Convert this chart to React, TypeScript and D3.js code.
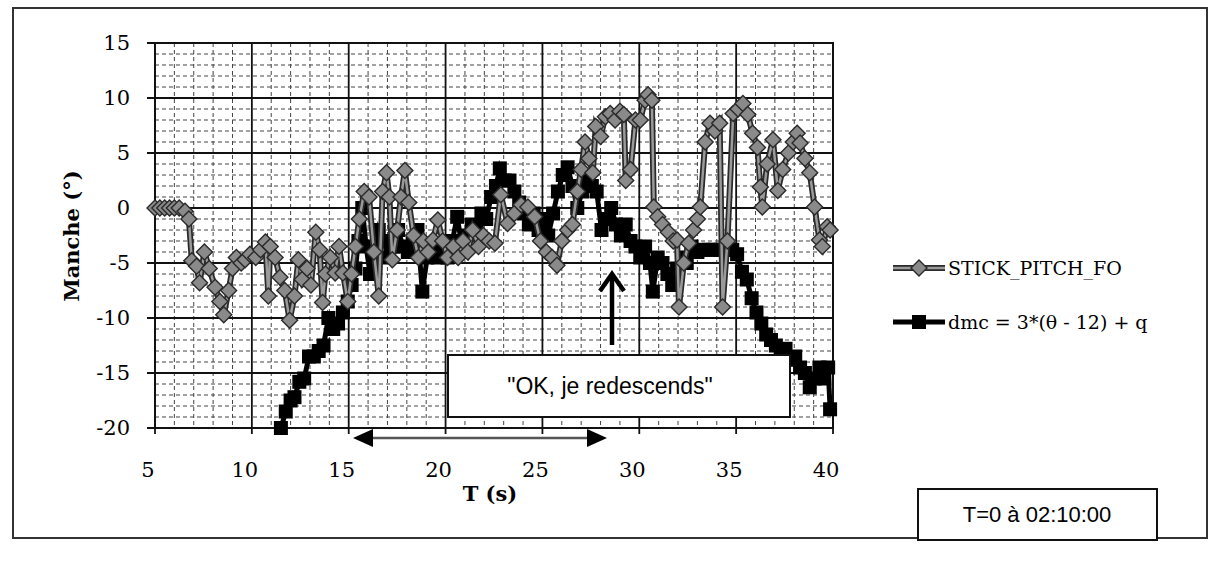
import React from "react";
import * as d3 from "d3";

// ---- Data ----
const stickT = [5.0,5.25,5.5,5.75,6.0,6.25,6.55,6.75,6.9,7.15,7.3,7.55,7.8,8.1,8.35,8.55,8.8,9.0,9.2,9.45,9.65,9.9,10.2,10.45,10.7,10.85,10.95,11.2,11.45,11.7,11.95,12.2,12.4,12.6,12.85,13.05,13.3,13.5,13.65,13.8,14.05,14.3,14.5,14.7,14.95,15.15,15.35,15.55,15.8,16.05,16.3,16.55,16.75,16.95,17.1,17.25,17.5,17.7,17.9,18.1,18.35,18.6,18.85,19.1,19.35,19.6,19.85,20.1,20.4,20.65,20.9,21.15,21.4,21.7,21.95,22.25,22.55,22.85,23.2,23.55,23.9,24.25,24.6,24.9,25.2,25.5,25.75,26.0,26.3,26.55,26.8,27.0,27.2,27.4,27.6,27.75,28.0,28.25,28.5,28.75,29.0,29.2,29.3,29.55,29.8,30.05,30.3,30.45,30.65,30.75,30.95,31.2,31.5,31.75,31.95,32.05,32.3,32.55,32.8,33.0,33.15,33.4,33.65,33.9,34.15,34.3,34.55,34.85,35.1,35.35,35.6,35.85,36.1,36.25,36.35,36.6,36.9,37.15,37.4,37.7,37.95,38.15,38.3,38.55,38.8,39.05,39.3,39.45,39.7,39.85];
const stickV = [0,0,0,0,0,0,-0.3,-1.0,-4.8,-5.3,-6.8,-4.0,-5.5,-7.2,-8.5,-9.7,-7.5,-5.5,-4.5,-5.0,-4.7,-4.2,-4.5,-3.8,-3.1,-8.0,-3.5,-4.5,-6.3,-7.5,-10.2,-8.0,-4.7,-6.5,-5.5,-7.0,-2.2,-3.8,-8.6,-6.0,-4.5,-5.9,-3.5,-5.9,-8.5,-6.0,-3.5,-1.0,1.5,1.0,-4.0,-8.0,1.5,3.2,1.0,-4.7,-2.0,1.0,3.4,0.5,-2.5,-4.5,-3.0,-4.0,-2.9,-1.1,-3.0,-4.5,-3.5,-4.5,-3.0,-4.0,-2.0,-3.5,-2.5,-3.0,-3.2,1.2,-1.4,-0.5,0.3,0.1,-0.8,-3.0,-4.0,-4.5,-5.2,-3.0,-2.0,-1.5,1.5,3.5,6.0,4.5,3.2,7.4,6.5,8.3,8.6,8.0,8.8,8.5,2.5,3.5,8.0,8.0,9.8,10.3,9.8,0.1,-0.8,-1.5,-2.2,-3.0,-2.9,-9.0,-5.0,-3.2,-2.0,-1.0,0.1,6.0,7.7,7.0,7.7,-9.0,-3.0,8.6,9.0,9.5,8.5,6.8,5.5,1.9,0.1,4.0,6.2,1.6,3.5,5.0,6.0,6.8,5.9,4.5,3.2,0.1,-2.9,-3.5,-1.7,-2.0];

const dmcT = [11.5,11.75,12.0,12.2,12.45,12.7,12.95,13.2,13.45,13.7,13.95,14.2,14.45,14.7,14.95,15.15,15.35,15.5,15.7,15.9,16.1,16.35,16.55,16.8,17.05,17.3,17.55,17.8,18.05,18.3,18.55,18.8,19.05,19.3,19.6,19.85,20.1,20.35,20.6,20.85,21.1,21.35,21.6,21.85,22.1,22.35,22.6,22.8,23.05,23.3,23.55,23.8,24.05,24.3,24.55,24.8,25.05,25.3,25.55,25.8,26.05,26.3,26.55,26.8,27.05,27.3,27.55,27.8,28.05,28.3,28.55,28.8,29.05,29.3,29.55,29.8,30.05,30.3,30.55,30.7,30.95,31.2,31.45,31.7,31.95,32.2,32.45,32.7,33.0,33.3,33.6,33.9,34.2,34.5,34.8,35.05,35.3,35.55,35.8,36.05,36.3,36.55,36.8,37.05,37.3,37.55,37.8,38.05,38.3,38.55,38.8,39.05,39.3,39.55,39.75,39.85];
const dmcV = [-20,-18.5,-17.5,-17.2,-15.8,-15.5,-13.5,-13.5,-13.0,-12.5,-10.0,-11.0,-10.5,-9.5,-8.5,-7.0,-5.5,-3.0,0.0,-3.5,-6.0,-4.5,-2.0,-3.0,-4.5,-3.5,-2.0,-3.5,-4.0,-3.0,-2.0,-7.6,-4.5,-4.0,-4.5,-3.5,-4.5,-3.0,-0.8,-3.5,-2.5,-1.5,-2.0,-0.5,-1.0,1.0,2.0,3.6,2.5,2.5,1.5,0.5,-0.5,-1.5,-0.5,-2.0,-1.0,-2.5,-0.5,1.5,3.0,3.7,2.0,0.0,1.5,2.5,2.0,1.5,-2.0,-1.0,0.0,-1.5,-2.5,-1.5,-3.0,-3.5,-4.5,-3.5,-5.0,-7.6,-4.5,-5.0,-6.0,-7.0,-5.5,-4.5,-5.0,-3.5,-4.0,-3.8,-3.8,-3.8,-3.8,-3.8,-3.8,-4.2,-5.8,-6.5,-8.2,-9.5,-10.5,-11.5,-12.0,-12.5,-13.0,-12.8,-13.8,-13.5,-14.5,-15.0,-16.3,-15.5,-14.5,-15.5,-14.5,-18.3];

const xTicks = [5, 10, 15, 20, 25, 30, 35, 40];
const yTicks = [15, 10, 5, 0, -5, -10, -15, -20];
const seriesNames = ["STICK_PITCH_FO", "dmc = 3*(\u03b8 - 12) + q"];
const xTitle = "T (s)";
const yTitle = "Manche (\u00b0)";
const annotation = "\"OK, je redescends\"";
const timeNote = "T=0 \u00e0 02:10:00";

export default function App() {
  const x = d3.scaleLinear().domain([5, 40]).range([155, 833]);
  const y = d3.scaleLinear().domain([-20, 15]).range([428, 43]);
  const minorX = d3.range(5, 41, 1);
  const minorY = d3.range(-20, 16, 1);

  const stick = stickT.map((t, i) => [t, stickV[i]] as [number, number]);
  const dmc = dmcT.map((t, i) => [t, dmcV[i]] as [number, number]);
  const line = d3.line<[number, number]>().x(d => x(d[0])).y(d => y(d[1]));

  const serif = "'DejaVu Serif', serif";
  const sans = "'Liberation Sans', Arial, sans-serif";
  const diamond = (cx: number, cy: number, r: number) =>
    `M${cx},${cy - r}L${cx + r},${cy}L${cx},${cy + r}L${cx - r},${cy}Z`;
  const sq = 14;

  return (
    <svg width={1211} height={566} style={{ position: "absolute", left: 0, top: 0, display: "block", background: "#fff" }}>
      {/* outer frame */}
      <rect x={13} y={8} width={1194} height={530} fill="#fff" stroke="#333" strokeWidth={2} />

      {/* minor grid */}
      {minorX.filter(v => v % 5 !== 0).map(v => (
        <line key={"mx" + v} x1={x(v)} x2={x(v)} y1={y(15)} y2={y(-20)} stroke="#444" strokeWidth={1} strokeDasharray="4,3" />
      ))}
      {minorY.filter(v => v % 5 !== 0).map(v => (
        <line key={"my" + v} x1={x(5)} x2={x(40)} y1={y(v)} y2={y(v)} stroke="#444" strokeWidth={1} strokeDasharray="4,3" />
      ))}
      {/* major grid */}
      {xTicks.map(v => (
        <line key={"Mx" + v} x1={x(v)} x2={x(v)} y1={y(15)} y2={y(-20) + 6} stroke="#111" strokeWidth={1.8} />
      ))}
      {yTicks.map(v => (
        <line key={"My" + v} x1={x(5) - 8} x2={x(40)} y1={y(v)} y2={y(v)} stroke="#111" strokeWidth={1.8} />
      ))}
      <rect x={x(5)} y={y(15)} width={x(40) - x(5)} height={y(-20) - y(15)} fill="none" stroke="#111" strokeWidth={2} />

      {/* tick labels */}
      {yTicks.map(v => (
        <text key={"yl" + v} x={130} y={y(v)} dy="0.35em" textAnchor="end" fontFamily={serif} fontSize={21}>{v}</text>
      ))}
      {xTicks.map(v => (
        <text key={"xl" + v} x={x(v) - 7} y={470} dy="0.35em" textAnchor="middle" fontFamily={serif} fontSize={21}>{v}</text>
      ))}
      <text x={490} y={494} dy="0.35em" textAnchor="middle" fontFamily={serif} fontSize={21} fontWeight="bold">{xTitle}</text>
      <text transform="translate(72,236) rotate(-90)" textAnchor="middle" dy="0.35em" fontFamily={serif} fontSize={21} fontWeight="bold">{yTitle}</text>

      {/* dmc series */}
      <path d={line(dmc) || ""} fill="none" stroke="#000" strokeWidth={5} />
      {dmc.map((d, i) => (
        <rect key={"d" + i} x={x(d[0]) - sq / 2} y={y(d[1]) - sq / 2} width={sq} height={sq} fill="#000" />
      ))}

      {/* stick series */}
      <path d={line(stick) || ""} fill="none" stroke="#2a2a2a" strokeWidth={6} />
      <path d={line(stick) || ""} fill="none" stroke="#9a9a9a" strokeWidth={2.5} />
      {stick.map((d, i) => (
        <path key={"s" + i} d={diamond(x(d[0]), y(d[1]), 8)} fill="#8a8a8a" stroke="#2a2a2a" strokeWidth={1.4} />
      ))}

      {/* annotation box */}
      <rect x={448} y={355} width={342} height={62} fill="#fff" stroke="#111" strokeWidth={2} />
      <text x={610} y={386} dy="0.35em" textAnchor="middle" fontFamily={sans} fontSize={23}>{annotation}</text>

      {/* up arrow */}
      <line x1={612} x2={612} y1={345} y2={275} stroke="#000" strokeWidth={4.5} />
      <path d="M600,291 L612,274 L624,291" fill="none" stroke="#000" strokeWidth={4.5} />

      {/* horizontal double arrow */}
      <line x1={370} x2={590} y1={438} y2={438} stroke="#555" strokeWidth={2.5} />
      <path d="M353,438 L373,429 L373,447 Z" fill="#000" />
      <path d="M607,438 L587,429 L587,447 Z" fill="#000" />

      {/* legend */}
      <line x1={893} x2={945} y1={268} y2={268} stroke="#2a2a2a" strokeWidth={6} />
      <line x1={893} x2={945} y1={268} y2={268} stroke="#9a9a9a" strokeWidth={2.5} />
      <path d={diamond(919, 268, 8)} fill="#8a8a8a" stroke="#2a2a2a" strokeWidth={1.4} />
      <text x={948} y={268} dy="0.35em" fontFamily={serif} fontSize={19}>{seriesNames[0]}</text>
      <line x1={893} x2={945} y1={322} y2={322} stroke="#000" strokeWidth={5} />
      <rect x={919 - sq / 2} y={322 - sq / 2} width={sq} height={sq} fill="#000" />
      <text x={948} y={322} dy="0.35em" fontFamily={serif} fontSize={19}>{seriesNames[1]}</text>

      {/* time note */}
      <rect x={918} y={489} width={239} height={51} fill="#fff" stroke="#111" strokeWidth={2} />
      <text x={1037} y={514} dy="0.35em" textAnchor="middle" fontFamily={sans} fontSize={22}>{timeNote}</text>
    </svg>
  );
}
